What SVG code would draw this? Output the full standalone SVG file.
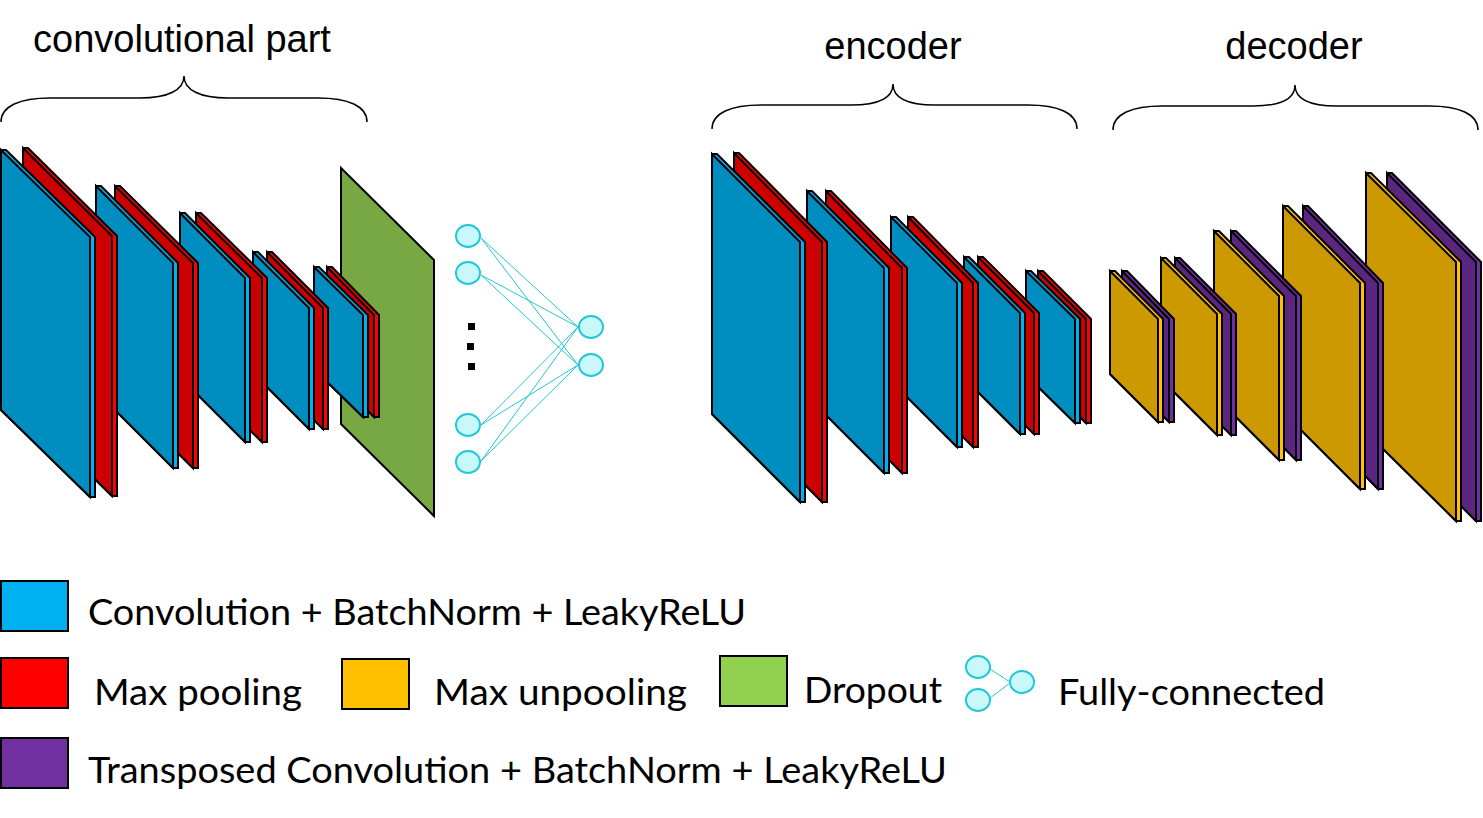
<svg xmlns="http://www.w3.org/2000/svg" width="1483" height="818" viewBox="0 0 1483 818">
<style>
.s{stroke:#000;stroke-width:2;stroke-linejoin:miter}
.bl{fill:#00B0F0}.blf{fill:#008DC0}
.rd{fill:#FF0000}.rdf{fill:#CC0000}
.gd{fill:#FFC000}.gdf{fill:#CC9A00}
.pu{fill:#7030A0}.puf{fill:#5A2680}
.gr{fill:#77A843}.grl{fill:#92D050}
.brace{fill:none;stroke:#000;stroke-width:1.5}
.title{font-family:"Liberation Sans",Arial,sans-serif;font-size:38px;fill:#000;text-anchor:middle}
.leg{font-family:Lato,"Noto Sans",sans-serif;font-size:36px;fill:#000}
.fcn{fill:#C9F8FA;stroke:#1FC8D8;stroke-width:2}
.fcl{stroke:#1FC8D8;stroke-width:1;fill:none}
</style>

<g id="titles">
<text class="title" x="182" y="52">convolutional part</text>
<text class="title" x="893" y="59">encoder</text>
<text class="title" x="1294" y="59">decoder</text>
</g>

<g id="braces">
<path class="brace" d="M1 122 C1 106 20 98 50 98 L140 98 C168 98 184 90 184 76 C184 90 200 98 228 98 L318 98 C348 98 367 106 367 122"/>
<path class="brace" d="M712 129 C712 113 731 105 761 105 L851 105 C879 105 893 98 893 84 C893 98 907 105 935 105 L1028 105 C1058 105 1077 113 1077 129"/>
<path class="brace" d="M1113 130 C1113 114 1132 106 1162 106 L1253 106 C1281 106 1295 99 1295 85 C1295 99 1309 106 1337 106 L1429 106 C1459 106 1478 114 1478 130"/>
</g>

<g id="conv-part">
<g id="dropout"><path class="s gr" d="M341 168 l93 92 v256 l-93 -92 z"/></g>
<g id="conv5-pool"><path class="s rd" d="M327 267 h5 l47 48 v102 h-5 l-47 -48 z"/><path class="s rdf" d="M327 267 l47 48 v102 l-47 -48 z"/></g>
<g id="conv5"><path class="s bl" d="M314 267 h5 l49 48 v102 h-5 l-49 -48 z"/><path class="s blf" d="M314 267 l49 48 v102 l-49 -48 z"/></g>
<g id="conv4-pool"><path class="s rd" d="M267 252 h5 l56 56 v121 h-5 l-56 -56 z"/><path class="s rdf" d="M267 252 l56 56 v121 l-56 -56 z"/></g>
<g id="conv4"><path class="s bl" d="M253 252 h5 l56 56 v121 h-5 l-56 -56 z"/><path class="s blf" d="M253 252 l56 56 v121 l-56 -56 z"/></g>
<g id="conv3-pool"><path class="s rd" d="M196 213 h5 l66 65 v164 h-5 l-66 -65 z"/><path class="s rdf" d="M196 213 l66 65 v164 l-66 -65 z"/></g>
<g id="conv3"><path class="s bl" d="M180 213 h5 l65 65 v164 h-5 l-65 -65 z"/><path class="s blf" d="M180 213 l65 65 v164 l-65 -65 z"/></g>
<g id="conv2-pool"><path class="s rd" d="M115 186 h5 l78 77 v205 h-5 l-78 -77 z"/><path class="s rdf" d="M115 186 l78 77 v205 l-78 -77 z"/></g>
<g id="conv2"><path class="s bl" d="M96 186 h5 l77 77 v205 h-5 l-77 -77 z"/><path class="s blf" d="M96 186 l77 77 v205 l-77 -77 z"/></g>
<g id="conv1-pool"><path class="s rd" d="M23 148 h5 l89 88 v260 h-5 l-89 -88 z"/><path class="s rdf" d="M23 148 l89 88 v260 l-89 -88 z"/></g>
<g id="conv1"><path class="s bl" d="M1 150 h5 l89 87 v260 h-5 l-89 -87 z"/><path class="s blf" d="M1 150 l89 87 v260 l-89 -87 z"/></g>
</g>

<g id="connectors">
<path class="fcl" d="M481 238 L578 327 M481 238 L578 365 M481 275 L578 327 M481 275 L578 365 M481 425 L578 327 M481 425 L578 365 M481 461 L578 327 M481 461 L578 365"/>
<path class="fcl" d="M990 669 L1010 682 M990 698 L1010 683"/>
</g>

<g id="fc-layer">
<g id="fc-in1"><ellipse class="fcn" cx="468" cy="236" rx="12" ry="11"/></g>
<g id="fc-in2"><ellipse class="fcn" cx="468" cy="273" rx="12" ry="11"/></g>
<g id="fc-in3"><ellipse class="fcn" cx="468" cy="425" rx="12" ry="11"/></g>
<g id="fc-in4"><ellipse class="fcn" cx="468" cy="462" rx="12" ry="11"/></g>
<g id="fc-out1"><ellipse class="fcn" cx="591" cy="327" rx="12" ry="11"/></g>
<g id="fc-out2"><ellipse class="fcn" cx="591" cy="365" rx="12" ry="11"/></g>
<g id="fc-dots"><rect x="468" y="323" width="7" height="7"/><rect x="467" y="343" width="7" height="7"/><rect x="468" y="363" width="7" height="7"/></g>
</g>

<g id="encoder">
<g id="enc5-pool"><path class="s rd" d="M1038 271 h5 l48 48 v104 h-5 l-48 -48 z"/><path class="s rdf" d="M1038 271 l48 48 v104 l-48 -48 z"/></g>
<g id="enc5"><path class="s bl" d="M1026 271 h5 l49 48 v104 h-5 l-49 -48 z"/><path class="s blf" d="M1026 271 l49 48 v104 l-49 -48 z"/></g>
<g id="enc4-pool"><path class="s rd" d="M978 257 h5 l56 56 v121 h-5 l-56 -56 z"/><path class="s rdf" d="M978 257 l56 56 v121 l-56 -56 z"/></g>
<g id="enc4"><path class="s bl" d="M964 257 h5 l56 56 v121 h-5 l-56 -56 z"/><path class="s blf" d="M964 257 l56 56 v121 l-56 -56 z"/></g>
<g id="enc3-pool"><path class="s rd" d="M908 217 h5 l65 66 v164 h-5 l-65 -66 z"/><path class="s rdf" d="M908 217 l65 66 v164 l-65 -66 z"/></g>
<g id="enc3"><path class="s bl" d="M891 217 h5 l66 66 v164 h-5 l-66 -66 z"/><path class="s blf" d="M891 217 l66 66 v164 l-66 -66 z"/></g>
<g id="enc2-pool"><path class="s rd" d="M826 191 h5 l76 77 v205 h-5 l-76 -77 z"/><path class="s rdf" d="M826 191 l76 77 v205 l-76 -77 z"/></g>
<g id="enc2"><path class="s bl" d="M807 191 h5 l77 77 v205 h-5 l-77 -77 z"/><path class="s blf" d="M807 191 l77 77 v205 l-77 -77 z"/></g>
<g id="enc1-pool"><path class="s rd" d="M734 153 h5 l88 89 v260 h-5 l-88 -89 z"/><path class="s rdf" d="M734 153 l88 89 v260 l-88 -89 z"/></g>
<g id="enc1"><path class="s bl" d="M712 154 h5 l88 88 v260 h-5 l-88 -88 z"/><path class="s blf" d="M712 154 l88 88 v260 l-88 -88 z"/></g>
</g>

<g id="decoder">
<g id="dec5-tconv"><path class="s pu" d="M1387 173 h5 l89 89 v259 h-5 l-89 -89 z"/><path class="s puf" d="M1387 173 l89 89 v259 l-89 -89 z"/></g>
<g id="dec5-unpool"><path class="s gd" d="M1366 173 h5 l90 89 v259 h-5 l-90 -89 z"/><path class="s gdf" d="M1366 173 l90 89 v259 l-90 -89 z"/></g>
<g id="dec4-tconv"><path class="s pu" d="M1303 206 h5 l75 77 v206 h-5 l-75 -77 z"/><path class="s puf" d="M1303 206 l75 77 v206 l-75 -77 z"/></g>
<g id="dec4-unpool"><path class="s gd" d="M1283 206 h5 l77 77 v206 h-5 l-77 -77 z"/><path class="s gdf" d="M1283 206 l77 77 v206 l-77 -77 z"/></g>
<g id="dec3-tconv"><path class="s pu" d="M1231 231 h5 l65 65 v164 h-5 l-65 -65 z"/><path class="s puf" d="M1231 231 l65 65 v164 l-65 -65 z"/></g>
<g id="dec3-unpool"><path class="s gd" d="M1214 231 h5 l65 65 v164 h-5 l-65 -65 z"/><path class="s gdf" d="M1214 231 l65 65 v164 l-65 -65 z"/></g>
<g id="dec2-tconv"><path class="s pu" d="M1175 258 h5 l56 56 v121 h-5 l-56 -56 z"/><path class="s puf" d="M1175 258 l56 56 v121 l-56 -56 z"/></g>
<g id="dec2-unpool"><path class="s gd" d="M1161 258 h5 l56 56 v121 h-5 l-56 -56 z"/><path class="s gdf" d="M1161 258 l56 56 v121 l-56 -56 z"/></g>
<g id="dec1-tconv"><path class="s pu" d="M1122 271 h5 l47 48 v103 h-5 l-47 -48 z"/><path class="s puf" d="M1122 271 l47 48 v103 l-47 -48 z"/></g>
<g id="dec1-unpool"><path class="s gd" d="M1110 271 h5 l48 48 v103 h-5 l-48 -48 z"/><path class="s gdf" d="M1110 271 l48 48 v103 l-48 -48 z"/></g>
</g>

<g id="legend">
<g id="leg-conv"><rect class="s bl" x="1" y="581" width="67" height="50"/><text class="leg" x="88" y="625" textLength="658" lengthAdjust="spacingAndGlyphs">Convolution + BatchNorm + LeakyReLU</text></g>
<g id="leg-pool"><rect class="s rd" x="1" y="658" width="67" height="50"/><text class="leg" x="94" y="705" textLength="208" lengthAdjust="spacingAndGlyphs">Max pooling</text></g>
<g id="leg-unpool"><rect class="s gd" x="342" y="659" width="67" height="50"/><text class="leg" x="434" y="705" textLength="253" lengthAdjust="spacingAndGlyphs">Max unpooling</text></g>
<g id="leg-dropout"><rect class="s grl" x="720" y="656" width="67" height="50"/><text class="leg" x="804" y="703" textLength="138" lengthAdjust="spacingAndGlyphs">Dropout</text></g>
<g id="leg-fc"><ellipse class="fcn" cx="978" cy="667" rx="12" ry="11"/><ellipse class="fcn" cx="978" cy="700" rx="12" ry="11"/><ellipse class="fcn" cx="1022" cy="682" rx="12" ry="11"/><text class="leg" x="1058" y="705" textLength="267" lengthAdjust="spacingAndGlyphs">Fully-connected</text></g>
<g id="leg-tconv"><rect class="s pu" x="1" y="738" width="67" height="50"/><text class="leg" x="88" y="783" textLength="859" lengthAdjust="spacingAndGlyphs">Transposed Convolution + BatchNorm + LeakyReLU</text></g>
</g>
</svg>
